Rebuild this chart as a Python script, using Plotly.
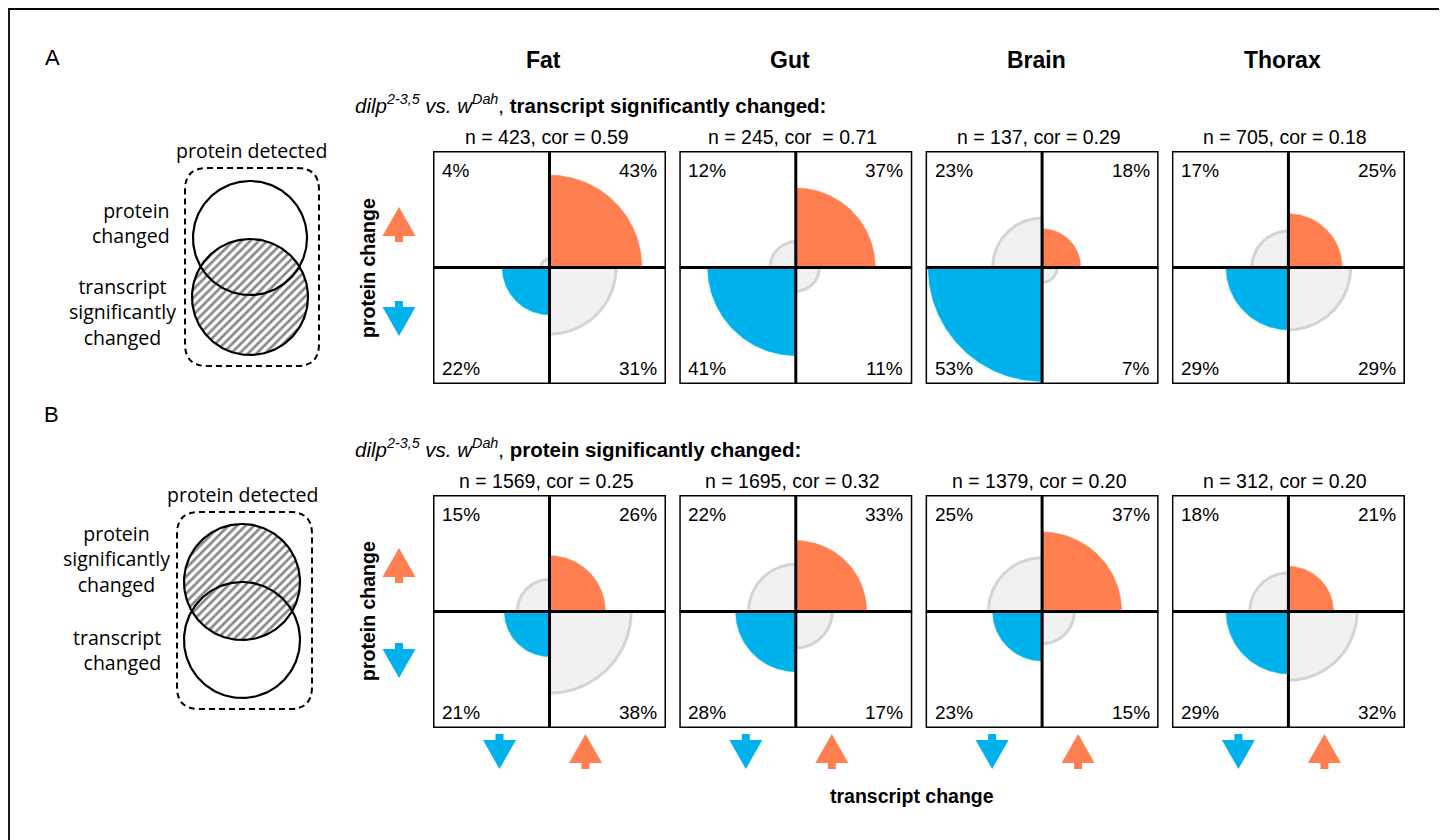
import numpy as np
import plotly.graph_objects as go

W, H = 1447, 840
OFF = 8  # page body margin of the html page

tissues = ["Fat", "Gut", "Brain", "Thorax"]

# Section A: transcript significantly changed
a_n = [423, 245, 137, 705]
a_cor = ["0.59", "0.71", "0.29", "0.18"]
# quadrants: TL = protein up / transcript down, TR = both up,
#            BL = both down, BR = protein down / transcript up  (percent)
a_tl = [4, 12, 23, 17]
a_tr = [43, 37, 18, 25]
a_bl = [22, 41, 53, 29]
a_br = [31, 11, 7, 29]

# Section B: protein significantly changed
b_n = [1569, 1695, 1379, 312]
b_cor = ["0.25", "0.32", "0.20", "0.20"]
b_tl = [15, 22, 25, 18]
b_tr = [26, 33, 37, 21]
b_bl = [21, 28, 23, 29]
b_br = [38, 17, 15, 32]

ORANGE = "#FF7F50"
BLUE = "#00B2EB"
GRAY_FILL = "#F1F1F1"
GRAY_LINE = "#D4D4D4"
ARIAL = "Liberation Sans, Arial, sans-serif"
MYRIAD = "Open Sans, Noto Sans, sans-serif"

BOX = 233
R = 54.2  # half box width in percent units
lefts = [433 + i * 246.3 for i in range(4)]
tops = [151, 495]

fig = go.Figure()
layout_axes = {}
shapes = []
annotations = []


def quarter(r, sx, sy, n=80):
    t = np.linspace(0, np.pi / 2, n)
    xs = np.concatenate([[0], sx * r * np.cos(t), [0]])
    ys = np.concatenate([[0], sy * r * np.sin(t), [0]])
    return xs, ys


sections = [
    (a_n, a_cor, a_tl, a_tr, a_bl, a_br),
    (b_n, b_cor, b_tl, b_tr, b_bl, b_br),
]

k = 0
for si, (ns, cors, tl, tr, bl, br) in enumerate(sections):
    top = tops[si]
    for ti in range(4):
        k += 1
        left = lefts[ti]
        xa = "x" if k == 1 else f"x{k}"
        ya = "y" if k == 1 else f"y{k}"
        xname = "xaxis" if k == 1 else f"xaxis{k}"
        yname = "yaxis" if k == 1 else f"yaxis{k}"
        layout_axes[xname] = dict(domain=[(left - OFF) / W, (left + BOX - OFF) / W], range=[-R, R],
                                  visible=False, fixedrange=True, anchor=ya)
        layout_axes[yname] = dict(domain=[1 - (top + BOX - OFF) / H, 1 - (top - OFF) / H], range=[-R, R],
                                  visible=False, fixedrange=True, anchor=xa)
        quads = [
            (tl[ti], -1, 1, GRAY_FILL, GRAY_LINE, 3),
            (br[ti], 1, -1, GRAY_FILL, GRAY_LINE, 3),
            (tr[ti], 1, 1, ORANGE, ORANGE, 0.5),
            (bl[ti], -1, -1, BLUE, BLUE, 0.5),
        ]
        for val, sx, sy, fc, lc, lw in quads:
            xs, ys = quarter(val, sx, sy)
            fig.add_trace(go.Scatter(x=xs, y=ys, mode="lines", fill="toself",
                                     fillcolor=fc, line=dict(color=lc, width=lw),
                                     xaxis=xa, yaxis=ya, hoverinfo="skip",
                                     showlegend=False))
        # box and quadrant lines
        shapes.append(dict(type="rect", xref=xa, yref=ya, x0=-R, x1=R, y0=-R, y1=R,
                           line=dict(color="black", width=3), layer="above"))
        shapes.append(dict(type="line", xref=xa, yref=ya, x0=-R, x1=R, y0=0, y1=0,
                           line=dict(color="black", width=3), layer="above"))
        shapes.append(dict(type="line", xref=xa, yref=ya, x0=0, x1=0, y0=-R, y1=R,
                           line=dict(color="black", width=3), layer="above"))
        # labels
        pf = dict(family=ARIAL, size=19, color="black")
        annotations += [
            dict(x=left + 7, y=top + 19, text=f"{tl[ti]}%", xanchor="left", yanchor="middle", font=pf),
            dict(x=left + BOX - 7, y=top + 19, text=f"{tr[ti]}%", xanchor="right", yanchor="middle", font=pf),
            dict(x=left + 7, y=top + BOX - 16, text=f"{bl[ti]}%", xanchor="left", yanchor="middle", font=pf),
            dict(x=left + BOX - 7, y=top + BOX - 16, text=f"{br[ti]}%", xanchor="right", yanchor="middle", font=pf),
        ]
        sep = "\u00a0 " if (si == 0 and ti == 1) else " "
        annotations.append(dict(x=left + BOX / 2 - 3, y=top - 14,
                                text=f"n = {ns[ti]}, cor{sep}= {cors[ti]}",
                                xanchor="center", yanchor="middle",
                                font=dict(family=ARIAL, size=19.5, color="black")))

# pixel overlay axis covering whole figure (reference pixel coordinates)
layout_axes["xaxis9"] = dict(domain=[0, 1], range=[OFF, W + OFF], visible=False, fixedrange=True, anchor="y9")
layout_axes["yaxis9"] = dict(domain=[0, 1], range=[H + OFF, OFF], visible=False, fixedrange=True, anchor="x9")


def circle(cx, cy, r, n=200):
    t = np.linspace(0, 2 * np.pi, n)
    return cx + r * np.cos(t), cy + r * np.sin(t)


def hatched(cx, cy, r):
    xs, ys = circle(cx, cy, r)
    fig.add_trace(go.Scatter(x=xs, y=ys, mode="lines", fill="toself",
                             fillcolor="white",
                             fillpattern=dict(shape="/", size=6, solidity=0.45,
                                              fgcolor="#111111", bgcolor="white"),
                             line=dict(color="black", width=2.2),
                             xaxis="x9", yaxis="y9", hoverinfo="skip", showlegend=False))


def outline(cx, cy, r):
    xs, ys = circle(cx, cy, r)
    fig.add_trace(go.Scatter(x=xs, y=ys, mode="lines",
                             line=dict(color="black", width=2.2),
                             xaxis="x9", yaxis="y9", hoverinfo="skip", showlegend=False))


def rounded_rect(x0, y0, x1, y1, r):
    return (f"M {x0 + r},{y0} L {x1 - r},{y0} Q {x1},{y0} {x1},{y0 + r} "
            f"L {x1},{y1 - r} Q {x1},{y1} {x1 - r},{y1} L {x0 + r},{y1} "
            f"Q {x0},{y1} {x0},{y1 - r} L {x0},{y0 + r} Q {x0},{y0} {x0 + r},{y0} Z")


# Venn A: transcript significantly changed (hatched, bottom)
hatched(250, 297, 58)
outline(250, 238, 57)
# Venn B: protein significantly changed (hatched, top)
hatched(242, 582, 58)
outline(242, 640, 58)

shapes.append(dict(type="path", xref="x9", yref="y9", path=rounded_rect(185, 168, 319, 366, 22),
                   line=dict(color="black", width=2, dash="6px,4px"), layer="above"))
shapes.append(dict(type="path", xref="x9", yref="y9", path=rounded_rect(177, 512, 312, 709, 22),
                   line=dict(color="black", width=2, dash="6px,4px"), layer="above"))

# outer frame
shapes.append(dict(type="rect", xref="x9", yref="y9", x0=9, x1=1442, y0=9, y1=900,
                   line=dict(color="black", width=1.8), layer="above"))


def up_arrow(cx, ty, color):
    return dict(type="path", xref="x9", yref="y9",
                path=(f"M {cx},{ty} L {cx + 16.5},{ty + 29} L {cx + 4},{ty + 29} L {cx + 4},{ty + 35} "
                      f"L {cx - 4},{ty + 35} L {cx - 4},{ty + 29} L {cx - 16.5},{ty + 29} Z"),
                fillcolor=color, line=dict(width=0), layer="above")


def down_arrow(cx, ty, color):
    return dict(type="path", xref="x9", yref="y9",
                path=(f"M {cx - 4},{ty} L {cx + 4},{ty} L {cx + 4},{ty + 6} L {cx + 16.5},{ty + 6} "
                      f"L {cx},{ty + 35} L {cx - 16.5},{ty + 6} L {cx - 4},{ty + 6} Z"),
                fillcolor=color, line=dict(width=0), layer="above")


# protein change arrows (left side)
shapes += [up_arrow(399, 207, ORANGE), down_arrow(399, 301, BLUE),
           up_arrow(399, 548, ORANGE), down_arrow(399, 643, BLUE)]
# transcript change arrows (bottom)
for left in lefts:
    c = left + BOX / 2
    shapes += [down_arrow(c - 50, 734, BLUE), up_arrow(c + 36, 734, ORANGE)]

# text annotations in reference pixel coordinates
annotations += [
    dict(x=52, y=57, text="A", font=dict(family=ARIAL, size=22, color="black")),
    dict(x=51, y=414, text="B", font=dict(family=ARIAL, size=22, color="black")),
]
for ti, name in enumerate(tissues):
    annotations.append(dict(x=lefts[ti] + BOX / 2 - 6, y=60, text=f"<b>{name}</b>",
                            font=dict(family=ARIAL, size=23, color="black")))

sub = "<i>dilp<sup>2-3,5</sup> vs. w<sup>Dah</sup></i>, "
annotations += [
    dict(x=353, y=104, text=sub + "<b>transcript significantly changed:</b>", xanchor="left",
         font=dict(family=ARIAL, size=20.5, color="black")),
    dict(x=353, y=448, text=sub + "<b>protein significantly changed:</b>", xanchor="left",
         font=dict(family=ARIAL, size=20.5, color="black")),
    dict(x=368, y=268, text="<b>protein change</b>", textangle=-90,
         font=dict(family=ARIAL, size=19.5, color="black")),
    dict(x=368, y=611, text="<b>protein change</b>", textangle=-90,
         font=dict(family=ARIAL, size=19.5, color="black")),
    dict(x=912, y=796, text="<b>transcript change</b>",
         font=dict(family=ARIAL, size=19.5, color="black")),
]

vf = dict(family=MYRIAD, size=19.5, color="black")
annotations += [
    dict(x=251, y=150, text="protein detected", font=vf),
    dict(x=172, y=223, text="protein<br>changed", xanchor="right", align="right", font=vf),
    dict(x=122, y=312, text="transcript<br>significantly<br>changed", align="center", font=vf),
    dict(x=242, y=494, text="protein detected", font=vf),
    dict(x=116, y=559, text="protein<br>significantly<br>changed", align="center", font=vf),
    dict(x=163, y=650, text="transcript<br>changed", xanchor="right", align="right", font=vf),
]

for a in annotations:
    a.setdefault("xref", "x9")
    a.setdefault("yref", "y9")
    a.setdefault("showarrow", False)
    a.setdefault("xanchor", "center")
    a.setdefault("yanchor", "middle")

fig.update_layout(
    width=W, height=H, margin=dict(l=0, r=0, t=0, b=0, pad=0),
    paper_bgcolor="white", plot_bgcolor="rgba(0,0,0,0)",
    showlegend=False, shapes=shapes, annotations=annotations,
    **layout_axes,
)

fig.write_html("out.html", config={"displayModeBar": False})
